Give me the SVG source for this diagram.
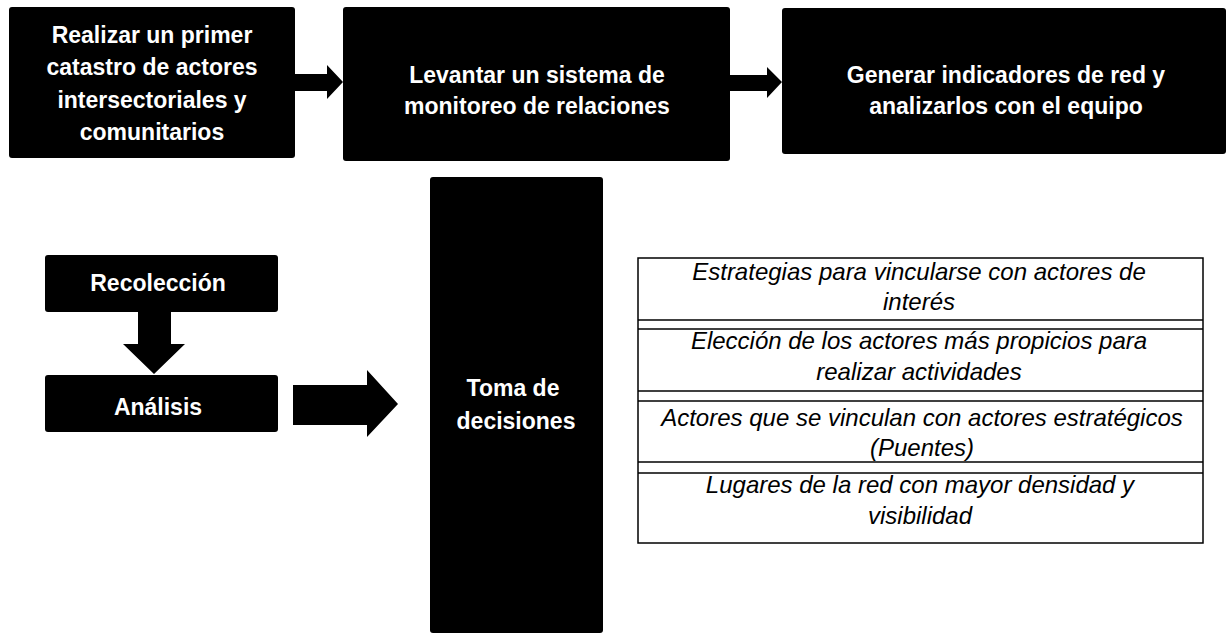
<svg xmlns="http://www.w3.org/2000/svg" width="1226" height="635" viewBox="0 0 1226 635">
<style>
.box{fill:#000;}
.lbl{font-family:"Liberation Sans",Arial,sans-serif;font-weight:bold;font-size:23px;fill:#fff;text-anchor:middle;}
.it{font-family:"Liberation Sans",Arial,sans-serif;font-style:italic;font-size:24px;fill:#000;text-anchor:middle;}
.arr{fill:#000;}
.tl{stroke:#000;stroke-width:1.5;fill:none;}
</style>
<rect width="1226" height="635" fill="#fff"/>
<g id="n1">
<rect class="box" x="9" y="7" width="286" height="151" rx="3"/>
<text class="lbl" x="152" y="43">Realizar un primer</text>
<text class="lbl" x="152" y="75">catastro de actores</text>
<text class="lbl" x="152" y="108">intersectoriales y</text>
<text class="lbl" x="152" y="140">comunitarios</text>
</g>
<g id="n2">
<rect class="box" x="343" y="7" width="387" height="154" rx="3"/>
<text class="lbl" x="537" y="83">Levantar un sistema de</text>
<text class="lbl" x="537" y="114">monitoreo de relaciones</text>
</g>
<g id="n3">
<rect class="box" x="782" y="8" width="444" height="146" rx="3"/>
<text class="lbl" x="1006" y="83">Generar indicadores de red y</text>
<text class="lbl" x="1006" y="114">analizarlos con el equipo</text>
</g>
<g id="n4">
<rect class="box" x="45" y="255" width="233" height="57" rx="3"/>
<text class="lbl" x="158" y="291">Recolección</text>
</g>
<g id="n5">
<rect class="box" x="45" y="375" width="233" height="57" rx="3"/>
<text class="lbl" x="158" y="415">Análisis</text>
</g>
<g id="n6">
<rect class="box" x="430" y="177" width="173" height="456" rx="3"/>
<text class="lbl" x="513" y="396">Toma de</text>
<text class="lbl" x="516" y="429">decisiones</text>
</g>
<g id="n7">
<rect x="638" y="258" width="565" height="285" fill="#fff" class="tl"/>
<line class="tl" x1="638" y1="320" x2="1203" y2="320"/>
<line class="tl" x1="638" y1="329" x2="1203" y2="329"/>
<line class="tl" x1="638" y1="391" x2="1203" y2="391"/>
<line class="tl" x1="638" y1="401" x2="1203" y2="401"/>
<line class="tl" x1="638" y1="462" x2="1203" y2="462"/>
<line class="tl" x1="638" y1="473" x2="1203" y2="473"/>
<text class="it" x="919" y="280">Estrategias para vincularse con actores de</text>
<text class="it" x="919" y="310">interés</text>
<text class="it" x="919" y="349">Elección de los actores más propicios para</text>
<text class="it" x="919" y="380">realizar actividades</text>
<text class="it" x="922" y="426">Actores que se vinculan con actores estratégicos</text>
<text class="it" x="922" y="456">(Puentes)</text>
<text class="it" x="920" y="493">Lugares de la red con mayor densidad y</text>
<text class="it" x="920" y="524">visibilidad</text>
</g>
<g id="connectors">
<polygon class="arr" points="295,74 327,74 327,65 343,82 327,99 327,91 295,91"/>
<polygon class="arr" points="730,75 767,75 767,67 782,82 767,98 767,91 730,91"/>
<polygon class="arr" points="138,312 171,312 171,344 185,344 154,374 123,344 138,344"/>
<polygon class="arr" points="293,385 367,385 367,370 398,404 367,437 367,425 293,425"/>
</g>
</svg>
